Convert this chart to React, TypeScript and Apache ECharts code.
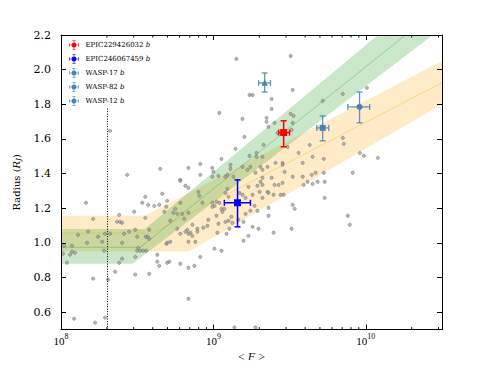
import { useEffect, useRef } from 'react';
import * as echarts from 'echarts';

// ---------- axis ranges ----------
const X_MIN = 1e8;
const X_MAX = Math.pow(10, 10.5);
const Y_MIN = 0.5;
const Y_MAX = 2.2;

// ---------- background sample: [log10 <F>, radius (R_J)] ----------
const sampleLogFluxRadius: [number, number][] = [
  [8.322, 1.647], [8.434, 1.393], [8.651, 1.428], [8.783, 1.364], [8.836, 1.433],
  [9.151, 2.062], [9.507, 2.079], [9.520, 1.883], [9.237, 1.854], [9.257, 1.854],
  [9.382, 1.831], [9.382, 1.773], [9.039, 1.750], [9.191, 1.716], [9.349, 1.722],
  [9.401, 1.693], [9.349, 1.699], [9.507, 1.745], [9.526, 1.733], [9.362, 1.670],
  [9.520, 1.693], [9.421, 1.635], [9.513, 1.652], [9.204, 1.612], [9.329, 1.566],
  [9.487, 1.554], [9.145, 1.543], [9.237, 1.503], [9.283, 1.520], [9.283, 1.497],
  [9.322, 1.497], [9.053, 1.485], [8.914, 1.456], [8.993, 1.433], [9.000, 1.410],
  [9.112, 1.451], [9.112, 1.428], [9.191, 1.439], [9.224, 1.422], [9.243, 1.439],
  [9.309, 1.439], [9.355, 1.439], [9.322, 1.422], [9.276, 1.405], [9.092, 1.393],
  [9.079, 1.382], [9.033, 1.387], [8.993, 1.382], [8.914, 1.393], [9.132, 1.382],
  [9.322, 1.376], [9.408, 1.462], [9.454, 1.462], [9.454, 1.451], [9.467, 1.410],
  [9.559, 1.520], [9.632, 1.566], [9.586, 1.462], [9.651, 1.497], [9.586, 1.382],
  [9.520, 1.382], [9.645, 1.393], [9.454, 1.347], [9.382, 1.376],
  [9.717, 1.820], [9.849, 1.860], [10.007, 1.895], [9.849, 1.606], [9.855, 1.572],
  [9.961, 1.520], [9.987, 1.503], [10.079, 1.491], [9.724, 1.485], [9.671, 1.405],
  [9.724, 1.405], [9.914, 1.405], [9.684, 1.353], [9.730, 1.353],
  [9.730, 1.260], [9.882, 1.157], [9.895, 1.105],
  [8.164, 1.232], [8.211, 1.139], [8.382, 1.162], [8.368, 1.122], [8.388, 1.122],
  [8.401, 1.116], [8.480, 1.180], [8.553, 1.266], [8.533, 1.232], [8.572, 1.220],
  [8.664, 1.284], [8.645, 1.220], [8.612, 1.214], [8.691, 1.209], [8.697, 1.243],
  [8.678, 1.180], [8.750, 1.197], [8.783, 1.232], [8.816, 1.330], [8.783, 1.358],
  [8.737, 1.174], [8.763, 1.168], [8.796, 1.168], [8.836, 1.174], [8.717, 1.128],
  [8.809, 1.139], [8.553, 1.145], [8.487, 1.076], [8.579, 1.076], [8.447, 1.065],
  [8.322, 1.053], [8.414, 1.053], [8.178, 1.065], [8.112, 1.047], [8.270, 1.007],
  [8.243, 1.036], [8.289, 1.053], [8.401, 1.001], [8.500, 1.036], [8.556, 1.036],
  [8.569, 1.036], [8.579, 1.024], [8.717, 1.007], [8.763, 1.082], [8.829, 1.076],
  [8.836, 1.053], [8.783, 1.053], [8.697, 1.001], [8.691, 0.995], [8.836, 1.007],
  [8.020, 0.984], [8.072, 0.984], [8.171, 1.001], [8.072, 0.949], [8.092, 0.943],
  [8.059, 0.932], [8.013, 0.938], [8.283, 0.955], [8.507, 0.972], [8.520, 0.955],
  [8.539, 0.955], [8.559, 0.955], [8.500, 0.955], [8.632, 0.932], [8.487, 0.920],
  [8.401, 0.909], [8.382, 0.886], [8.039, 0.886], [8.632, 0.892], [8.697, 0.886],
  [8.711, 0.892], [8.783, 0.880], [8.645, 0.868], [8.836, 0.857], [8.355, 0.834],
  [8.487, 0.817], [8.579, 0.822], [8.211, 0.794], [8.309, 0.788], [8.836, 0.678],
  [8.086, 0.563], [8.289, 0.569], [8.224, 0.540],
  [8.836, 1.318], [8.901, 1.295], [8.908, 1.272], [8.928, 1.232], [8.993, 1.232],
  [9.020, 1.237], [9.039, 1.232], [9.053, 1.197], [9.007, 1.214], [8.993, 1.209],
  [9.079, 1.289], [9.092, 1.312], [9.099, 1.266], [9.171, 1.289], [9.191, 1.278],
  [9.211, 1.260], [9.230, 1.324], [9.257, 1.278], [9.289, 1.330], [9.309, 1.353],
  [9.322, 1.335], [9.303, 1.295], [9.355, 1.295], [9.362, 1.289], [9.322, 1.260],
  [9.395, 1.278], [9.428, 1.335], [9.401, 1.335], [9.441, 1.278], [9.461, 1.278],
  [9.592, 1.335], [9.618, 1.353], [9.651, 1.341], [9.362, 1.203], [9.362, 1.157],
  [9.270, 1.214], [9.289, 1.186], [9.243, 1.186], [9.211, 1.168], [9.197, 1.122],
  [9.164, 1.134], [9.118, 1.151], [9.072, 1.197], [9.059, 1.180], [9.020, 1.157],
  [9.099, 1.128], [9.125, 1.116], [9.079, 1.122], [9.033, 1.111], [8.967, 1.134],
  [8.961, 1.099], [8.934, 1.088], [8.895, 1.082], [8.862, 1.105], [8.816, 1.065],
  [8.849, 1.059], [8.895, 1.065], [8.862, 1.041], [8.882, 1.007], [9.026, 1.059],
  [9.086, 1.053], [9.105, 1.082], [9.257, 1.093], [9.296, 1.082], [9.230, 1.041],
  [9.197, 1.013], [9.395, 1.059], [9.520, 1.220], [9.533, 1.197], [9.513, 1.082],
  [9.007, 0.967], [9.053, 0.955], [8.914, 0.920], [8.875, 0.868], [9.138, 0.512],
  [9.276, 0.512],
];

// ---------- highlighted planets ----------
const planetNames = ['EPIC229426032 b', 'EPIC246067459 b', 'WASP-17 b', 'WASP-82 b', 'WASP-12 b'];
const planetColors = ['#ff0000', '#0000ff', '#4682b4', '#4682b4', '#4682b4'];
const planetMarkers = ['square', 'square', 'triangle', 'square', 'circle'];
const planetFlux = [2.89e9, 1.44e9, 2.17e9, 5.21e9, 9.1e9];
const planetFluxLow = [2.68e9, 1.18e9, 1.98e9, 4.77e9, 7.62e9];
const planetFluxHigh = [3.16e9, 1.75e9, 2.37e9, 5.71e9, 1.06e10];
const planetRadius = [1.637, 1.232, 1.923, 1.664, 1.785];
const planetRadiusLow = [1.555, 1.093, 1.871, 1.589, 1.693];
const planetRadiusHigh = [1.705, 1.364, 1.981, 1.733, 1.871];

// ---------- model bands: [log10 <F>, radius] ----------
const greenUpper: [number, number][] = [[8.0, 1.08], [8.55, 1.08], [10.08, 2.2]];
const greenLower: [number, number][] = [[8.0, 0.88], [8.47, 0.88], [10.44, 2.2]];
const greenMid: [number, number][] = [[8.0, 0.975], [8.52, 0.975], [10.26, 2.2]];
const orangeUpper: [number, number][] = [[8.0, 1.157], [8.55, 1.157], [10.5, 2.05]];
const orangeLower: [number, number][] = [[8.0, 0.95], [8.84, 0.95], [10.5, 1.8]];
const orangeMid: [number, number][] = [[8.0, 1.057], [8.6, 1.057], [10.5, 1.925]];

// vertical dotted cut line (flux, radius span below the legend)
const fluxCut = 2e8;
const fluxCutTopRadius = 1.78;
const minorTickFlux = [
  2e8, 3e8, 4e8, 5e8, 6e8, 7e8, 8e8, 9e8,
  2e9, 3e9, 4e9, 5e9, 6e9, 7e9, 8e9, 9e9,
  2e10, 3e10,
];

const LEGEND_ICON =
  'path://M0,9.4H20V10.6H0Z M9.4,0H10.6V20H9.4Z M0,6.5H1.2V13.5H0Z M18.8,6.5H20V13.5H18.8Z M6.5,0H13.5V1.2H6.5Z M6.5,18.8H13.5V20H6.5Z M10,5A5,5 0 1 1 9.99,5Z';

const toXY = (pts: [number, number][]) => pts.map(([l, r]) => [Math.pow(10, l), r]);

function bandSeries(upper: [number, number][], lower: [number, number][], fill: string) {
  const poly = toXY(upper).concat(toXY(lower).reverse());
  return {
    type: 'custom',
    silent: true,
    z: 1,
    clip: true,
    data: [[1e9, 1]],
    encode: { x: 0, y: 1 },
    renderItem: (_p: any, api: any) => ({
      type: 'polygon',
      shape: { points: poly.map((p) => api.coord(p)) },
      style: { fill },
    }),
  };
}

function planetSeries(i: number) {
  const color = planetColors[i];
  const big = i < 2;
  const lw = big ? 1.5 : 1.3;
  const size = big ? 7 : 6;
  return {
    type: 'custom',
    name: planetNames[i],
    z: 6,
    itemStyle: { color },
    data: [[planetFlux[i], planetRadius[i], planetFluxLow[i], planetFluxHigh[i], planetRadiusLow[i], planetRadiusHigh[i]]],
    encode: { x: 0, y: 1 },
    renderItem: (_p: any, api: any) => {
      const c = api.coord([api.value(0), api.value(1)]);
      const xl = api.coord([api.value(2), api.value(1)])[0];
      const xh = api.coord([api.value(3), api.value(1)])[0];
      const yl = api.coord([api.value(0), api.value(4)])[1];
      const yh = api.coord([api.value(0), api.value(5)])[1];
      const cap = 3;
      const es = { stroke: color, lineWidth: lw, opacity: big ? 1 : 0.85 };
      const children: any[] = [
        { type: 'line', shape: { x1: xl, y1: c[1], x2: xh, y2: c[1] }, style: es },
        { type: 'line', shape: { x1: c[0], y1: yl, x2: c[0], y2: yh }, style: es },
        { type: 'line', shape: { x1: xl, y1: c[1] - cap, x2: xl, y2: c[1] + cap }, style: es },
        { type: 'line', shape: { x1: xh, y1: c[1] - cap, x2: xh, y2: c[1] + cap }, style: es },
        { type: 'line', shape: { x1: c[0] - cap, y1: yl, x2: c[0] + cap, y2: yl }, style: es },
        { type: 'line', shape: { x1: c[0] - cap, y1: yh, x2: c[0] + cap, y2: yh }, style: es },
      ];
      const m = planetMarkers[i];
      if (m === 'square') {
        children.push({ type: 'rect', shape: { x: c[0] - size / 2, y: c[1] - size / 2, width: size, height: size }, style: { fill: color } });
      } else if (m === 'circle') {
        children.push({ type: 'circle', shape: { cx: c[0], cy: c[1], r: size / 2 }, style: { fill: color } });
      } else {
        const h = size * 0.9;
        children.push({
          type: 'polygon',
          shape: { points: [[c[0], c[1] - h / 2 - 1], [c[0] - h / 2 - 0.5, c[1] + h / 2], [c[0] + h / 2 + 0.5, c[1] + h / 2]] },
          style: { fill: color },
        });
      }
      return { type: 'group', children };
    },
  };
}

const SERIF = 'DejaVu Serif';
const axisLineStyle = { color: '#000', width: 1 };

export default function App() {
  const ref = useRef<HTMLDivElement>(null);
  useEffect(() => {
    if (!ref.current) return;
    const chart = echarts.init(ref.current, undefined, { renderer: 'svg' });
    const option: any = {
      animation: false,
      backgroundColor: '#fff',
      grid: { left: 61, right: 49, top: 35, bottom: 37, containLabel: false },
      legend: {
        data: planetNames.map((n) => ({ name: n, icon: LEGEND_ICON })),
        orient: 'vertical',
        left: 62,
        top: 37,
        itemWidth: 13,
        itemHeight: 10,
        itemGap: 4,
        padding: [3, 8, 3, 7],
        selectedMode: false,
        formatter: (n: string) => n.replace(/ b$/, ' {i|b}'),
        textStyle: {
          fontFamily: SERIF,
          fontSize: 7,
          color: '#000',
          rich: { i: { fontFamily: SERIF, fontSize: 7, fontStyle: 'italic', color: '#000' } },
        },
      },
      xAxis: [
        {
          type: 'log',
          logBase: 10,
          min: X_MIN,
          max: X_MAX,
          position: 'bottom',
          z: 10,
          axisLine: { lineStyle: axisLineStyle },
          axisTick: { inside: true, length: 5, lineStyle: { color: '#000' } },
          splitLine: { show: false },
          axisLabel: {
            margin: 3,
            showMaxLabel: false,
            color: '#000',
            fontFamily: 'Liberation Serif',
            fontSize: 11,
            formatter: (v: number) => `10{s|${Math.round(Math.log10(v))}}`,
            rich: { s: { fontFamily: 'Liberation Serif', fontSize: 8, padding: [0, 0, 8, 0], color: '#000' } },
          },
          name: '< {i|F} >',
          nameLocation: 'middle',
          nameGap: 16,
          nameTextStyle: {
            fontFamily: 'Liberation Serif',
            fontSize: 12,
            color: '#000',
            rich: { i: { fontFamily: 'Liberation Serif', fontSize: 12, fontStyle: 'italic', color: '#000' } },
          },
        },
        {
          type: 'log',
          logBase: 10,
          min: X_MIN,
          max: X_MAX,
          position: 'top',
          z: 10,
          axisLine: { lineStyle: axisLineStyle },
          axisTick: { inside: true, length: 5, lineStyle: { color: '#000' } },
          splitLine: { show: false },
          axisLabel: { show: false },
        },
      ],
      yAxis: [
        {
          type: 'value',
          min: Y_MIN,
          max: Y_MAX,
          splitNumber: 8,
          position: 'left',
          z: 10,
          axisLine: { show: true, lineStyle: axisLineStyle },
          axisTick: { show: true, inside: true, length: 5, lineStyle: { color: '#000' } },
          splitLine: { show: false },
          axisLabel: {
            margin: 10,
            showMinLabel: false,
            color: '#000',
            fontFamily: SERIF,
            fontSize: 11,
            formatter: (v: number) => v.toFixed(1),
          },
          name: 'Radius ({i|R}{j|J})',
          nameLocation: 'middle',
          nameGap: 32,
          nameTextStyle: {
            fontFamily: SERIF,
            fontSize: 10,
            color: '#000',
            rich: {
              i: { fontFamily: SERIF, fontSize: 10, fontStyle: 'italic', color: '#000' },
              j: { fontFamily: SERIF, fontSize: 7, fontStyle: 'italic', color: '#000', padding: [6, 0, 0, 0] },
            },
          },
        },
        {
          type: 'value',
          min: Y_MIN,
          max: Y_MAX,
          splitNumber: 8,
          position: 'right',
          z: 10,
          axisLine: { show: true, lineStyle: axisLineStyle },
          axisTick: { show: true, inside: true, length: 5, lineStyle: { color: '#000' } },
          splitLine: { show: false },
          axisLabel: { show: false },
        },
      ],
      series: [
        bandSeries(orangeUpper, orangeLower, 'rgba(255,165,0,0.22)'),
        bandSeries(greenUpper, greenLower, 'rgba(44,160,44,0.25)'),
        {
          type: 'line',
          data: toXY(orangeMid),
          showSymbol: false,
          silent: true,
          z: 2,
          lineStyle: { color: 'rgba(255,165,0,0.35)', width: 1 },
        },
        {
          type: 'line',
          data: toXY(greenMid),
          showSymbol: false,
          silent: true,
          z: 2,
          lineStyle: { color: 'rgba(44,160,44,0.35)', width: 1 },
        },
        {
          type: 'scatter',
          z: 3,
          silent: true,
          symbolSize: 3.3,
          data: sampleLogFluxRadius.map(([l, r]) => [Math.pow(10, l), r]),
          itemStyle: { color: 'rgba(150,150,150,0.85)', borderColor: 'rgba(85,85,85,0.9)', borderWidth: 0.5 },
          markLine: {
            silent: true,
            symbol: ['none', 'none'],
            label: { show: false },
            lineStyle: { type: [1, 1.5], color: '#000', width: 1 },
            data: [[{ coord: [fluxCut, Y_MIN] }, { coord: [fluxCut, fluxCutTopRadius] }]],
          },
        },
        {
          type: 'custom',
          silent: true,
          z: 11,
          data: minorTickFlux.map((f) => [f, Y_MIN]),
          encode: { x: 0, y: 1 },
          renderItem: (_p: any, api: any) => {
            const b = api.coord([api.value(0), Y_MIN]);
            const t = api.coord([api.value(0), Y_MAX]);
            return {
              type: 'group',
              children: [
                { type: 'line', shape: { x1: b[0], y1: b[1], x2: b[0], y2: b[1] - 2.5 }, style: { stroke: '#000', lineWidth: 1 } },
                { type: 'line', shape: { x1: t[0], y1: t[1], x2: t[0], y2: t[1] + 2.5 }, style: { stroke: '#000', lineWidth: 1 } },
              ],
            };
          },
        },
        ...planetNames.map((_, i) => planetSeries(i)),
      ],
    };
    chart.setOption(option);
    return () => chart.dispose();
  }, []);
  return <div ref={ref} style={{ width: 491, height: 368, margin: -8 }} />;
}
